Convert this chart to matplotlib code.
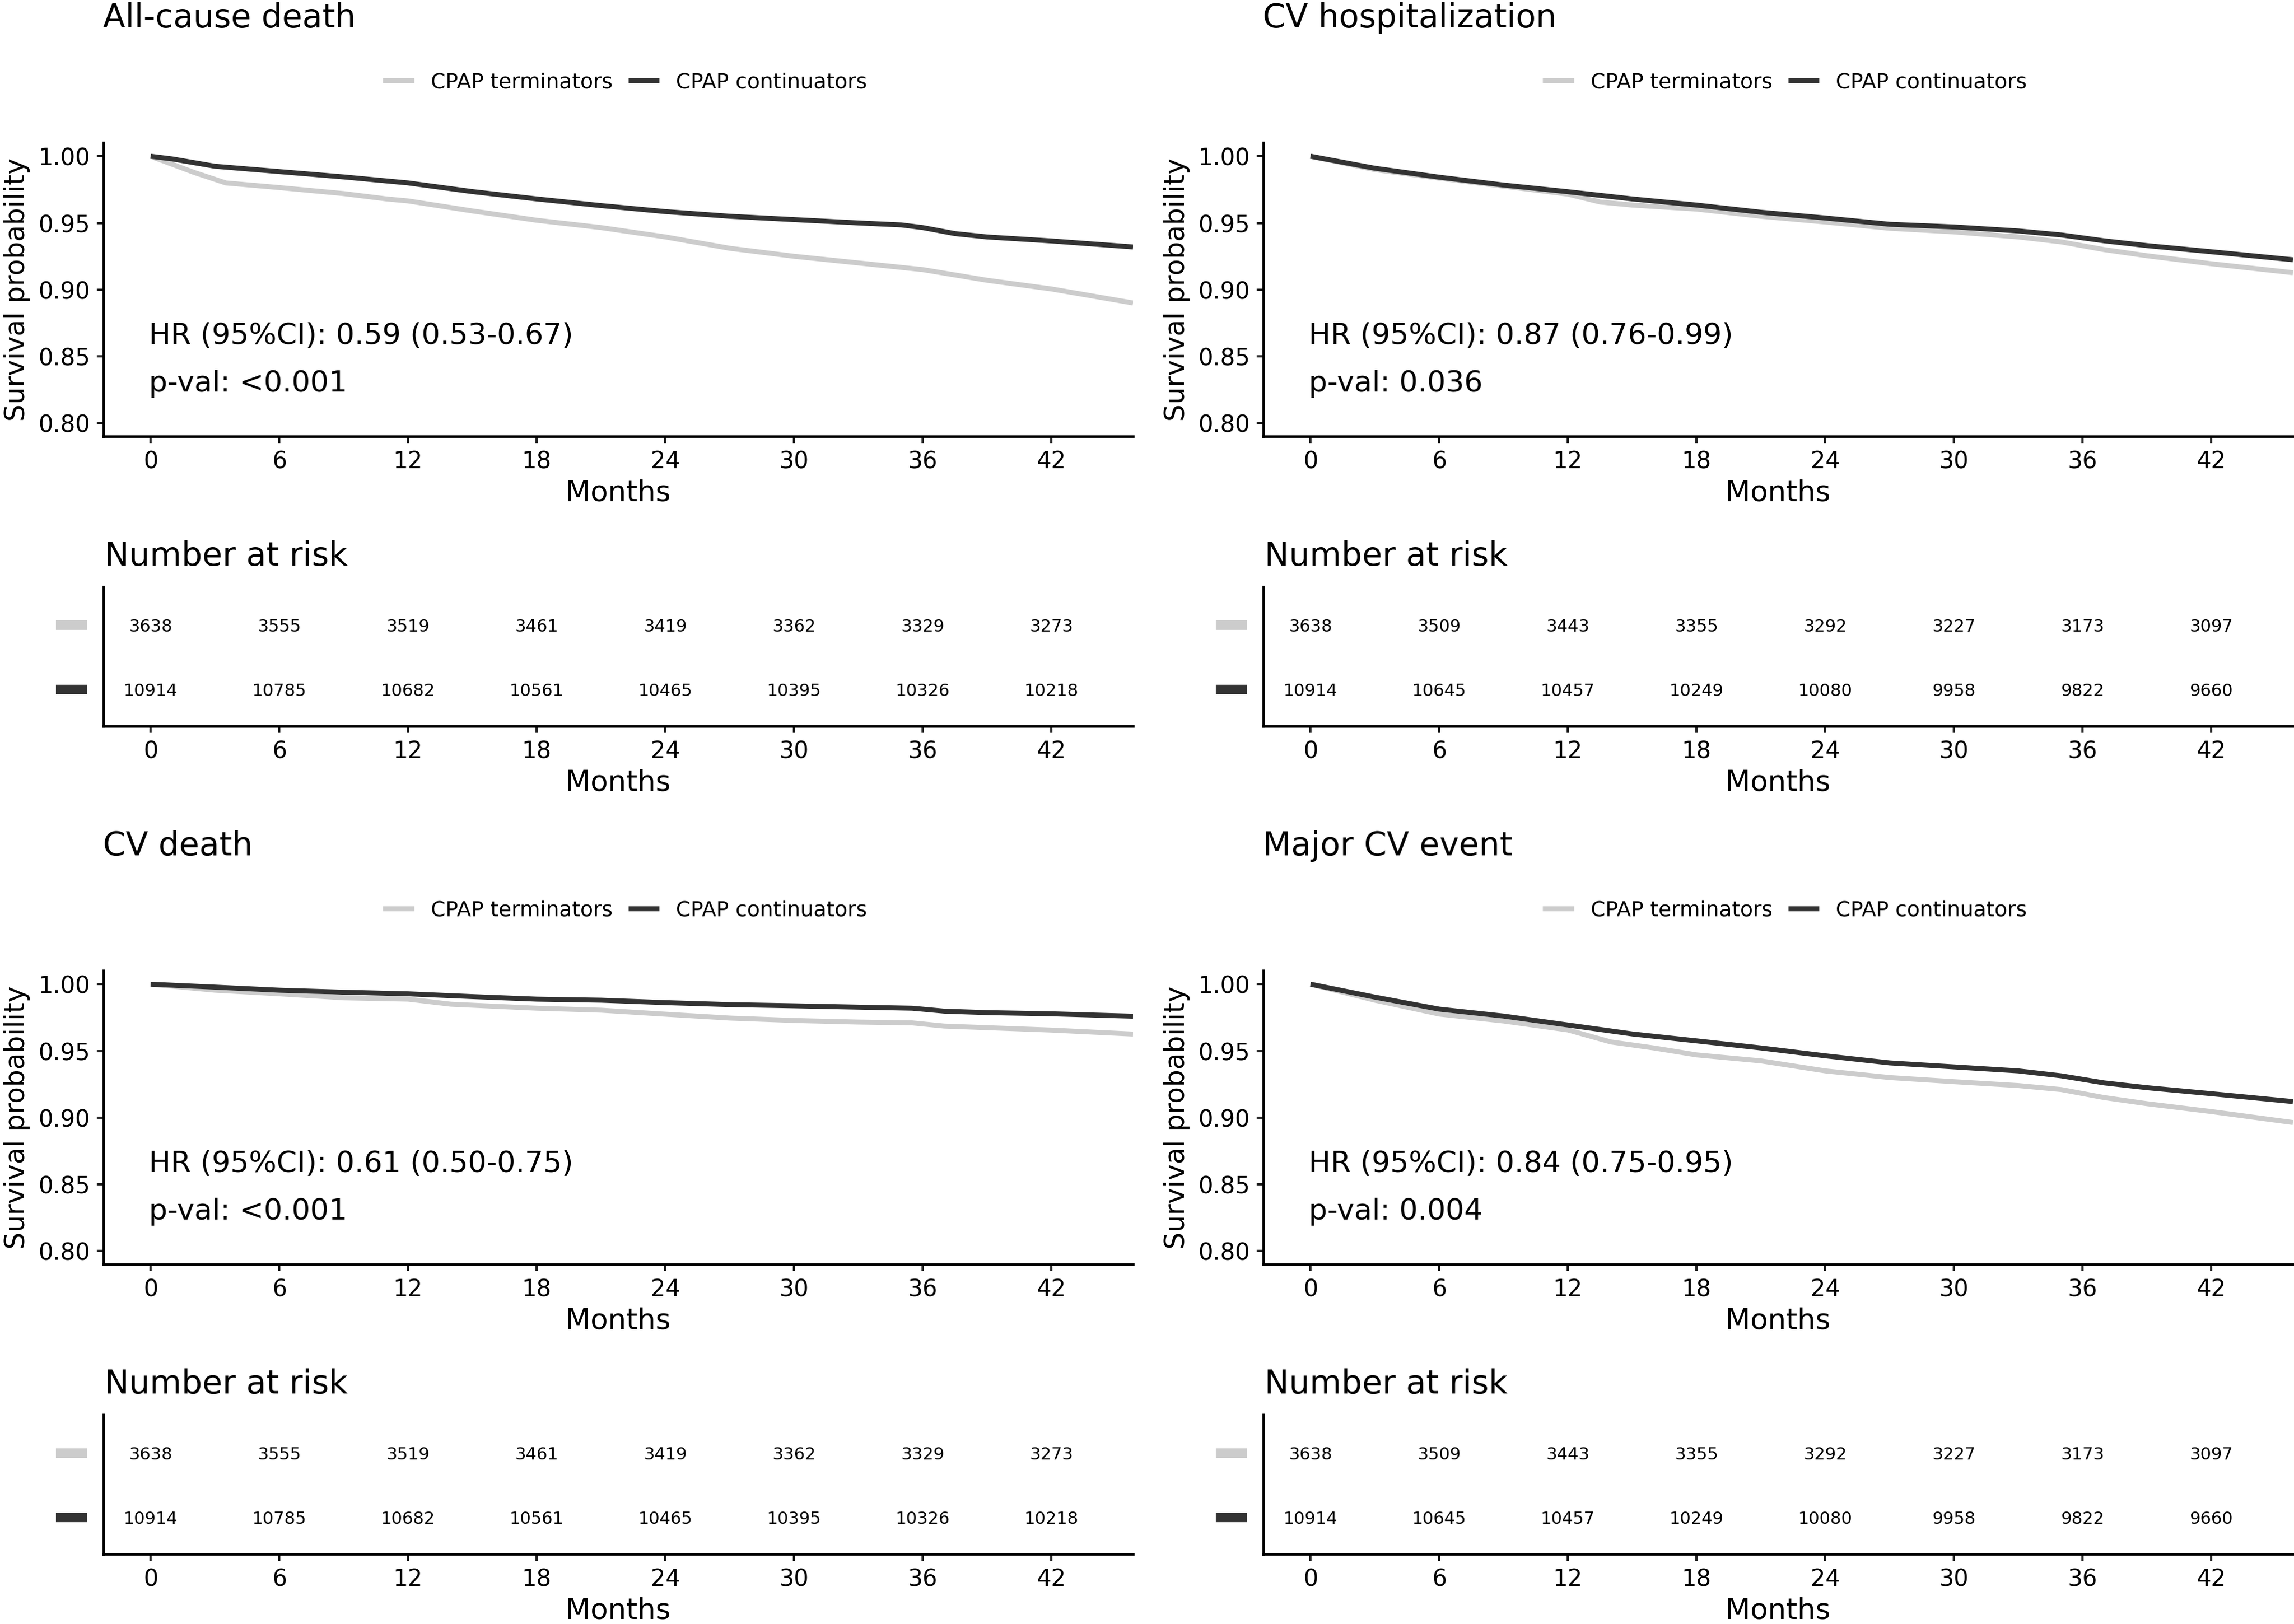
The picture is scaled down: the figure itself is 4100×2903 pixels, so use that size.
import matplotlib
matplotlib.use("Agg")
import matplotlib.pyplot as plt
import matplotlib.transforms as mtransforms
from matplotlib.patches import Rectangle
from matplotlib.lines import Line2D

plt.rcParams['font.family'] = ['DejaVu Sans']

# ---------------- data ----------------
month_ticks = [0, 6, 12, 18, 24, 30, 36, 42]
surv_ticks = [0.80, 0.85, 0.90, 0.95, 1.00]
group_labels = ["CPAP terminators", "CPAP continuators"]
group_colors = ["#CCCCCC", "#333333"]

titles = ["All-cause death", "CV hospitalization", "CV death", "Major CV event"]
hr_texts = ["HR (95%CI): 0.59 (0.53-0.67)", "HR (95%CI): 0.87 (0.76-0.99)",
            "HR (95%CI): 0.61 (0.50-0.75)", "HR (95%CI): 0.84 (0.75-0.95)"]
p_texts = ["p-val: <0.001", "p-val: 0.036", "p-val: <0.001", "p-val: 0.004"]

# All-cause death
acd_term_months = [0, 1, 2, 3.5, 6, 9, 11, 12, 15, 18, 21, 24, 27, 30, 33, 36, 39, 42, 45.8]
acd_term_surv = [1.000, 0.994, 0.988, 0.980, 0.9765, 0.972, 0.968, 0.9665, 0.959, 0.952, 0.9465,
                 0.9395, 0.931, 0.925, 0.920, 0.915, 0.907, 0.9005, 0.890]
acd_cont_months = [0, 1, 3, 6, 9, 12, 15, 18, 21, 24, 27, 30, 33, 35, 36, 37.5, 39, 42, 45.8]
acd_cont_surv = [1.000, 0.998, 0.9925, 0.9885, 0.9845, 0.980, 0.9735, 0.968, 0.963, 0.9585, 0.955,
                 0.9525, 0.950, 0.9485, 0.9465, 0.942, 0.9395, 0.9365, 0.932]

# CV hospitalization
cvh_term_months = [0, 3, 6, 9, 12, 13.5, 15, 18, 21, 24, 27, 30, 33, 35, 37, 39, 42, 45.8]
cvh_term_surv = [1.000, 0.990, 0.9836, 0.9776, 0.9716, 0.9657, 0.9634, 0.9604, 0.955, 0.9507, 0.946,
                 0.9433, 0.9395, 0.9358, 0.930, 0.9254, 0.9194, 0.9127]
cvh_cont_months = [0, 3, 6, 9, 12, 15, 18, 21, 24, 27, 30, 33, 35, 37, 39, 42, 45.8]
cvh_cont_surv = [1.000, 0.991, 0.9843, 0.9784, 0.9734, 0.968, 0.9634, 0.958, 0.9537, 0.949, 0.947,
                 0.944, 0.941, 0.9366, 0.933, 0.9284, 0.9224]

# CV death
cvd_term_months = [0, 3, 6, 9, 12, 14, 18, 21, 24, 27, 30, 33, 35.5, 37, 42, 45.8]
cvd_term_surv = [1.000, 0.9955, 0.9928, 0.9898, 0.9888, 0.985, 0.982, 0.9805, 0.9775, 0.9746,
                 0.9728, 0.9716, 0.971, 0.9686, 0.9656, 0.9626]
cvd_cont_months = [0, 3, 6, 9, 12, 15, 18, 21, 24, 27, 30, 33, 35.5, 37, 39, 42, 45.8]
cvd_cont_surv = [1.000, 0.9978, 0.9955, 0.994, 0.9928, 0.9907, 0.9888, 0.988, 0.9862, 0.9847,
                 0.9838, 0.9828, 0.982, 0.9798, 0.9787, 0.9778, 0.976]

# Major CV event
mace_term_months = [0, 3, 6, 9, 12, 14, 16, 18, 21, 24, 27, 30, 33, 35, 37, 39, 42, 45.8]
mace_term_surv = [1.000, 0.988, 0.9776, 0.9724, 0.9657, 0.9567, 0.9522, 0.947, 0.9425, 0.935, 0.930,
                  0.9269, 0.924, 0.921, 0.915, 0.9104, 0.9045, 0.8963]
mace_cont_months = [0, 3, 6, 9, 12, 15, 18, 21, 24, 27, 30, 33, 35, 37, 39, 42, 45.8]
mace_cont_surv = [1.000, 0.9903, 0.9813, 0.9761, 0.9694, 0.9627, 0.9575, 0.9522, 0.9463, 0.941,
                  0.938, 0.935, 0.9313, 0.926, 0.9224, 0.9179, 0.912]

# Numbers at risk
acd_risk_term = [3638, 3555, 3519, 3461, 3419, 3362, 3329, 3273]
acd_risk_cont = [10914, 10785, 10682, 10561, 10465, 10395, 10326, 10218]
cvh_risk_term = [3638, 3509, 3443, 3355, 3292, 3227, 3173, 3097]
cvh_risk_cont = [10914, 10645, 10457, 10249, 10080, 9958, 9822, 9660]
cvd_risk_term = [3638, 3555, 3519, 3461, 3419, 3362, 3329, 3273]
cvd_risk_cont = [10914, 10785, 10682, 10561, 10465, 10395, 10326, 10218]
mace_risk_term = [3638, 3509, 3443, 3355, 3292, 3227, 3173, 3097]
mace_risk_cont = [10914, 10645, 10457, 10249, 10080, 9958, 9822, 9660]

panels = [
    dict(col=0, row=0, curves=[(acd_term_months, acd_term_surv), (acd_cont_months, acd_cont_surv)],
         risk=[acd_risk_term, acd_risk_cont]),
    dict(col=1, row=0, curves=[(cvh_term_months, cvh_term_surv), (cvh_cont_months, cvh_cont_surv)],
         risk=[cvh_risk_term, cvh_risk_cont]),
    dict(col=0, row=1, curves=[(cvd_term_months, cvd_term_surv), (cvd_cont_months, cvd_cont_surv)],
         risk=[cvd_risk_term, cvd_risk_cont]),
    dict(col=1, row=1, curves=[(mace_term_months, mace_term_surv), (mace_cont_months, mace_cont_surv)],
         risk=[mace_risk_term, mace_risk_cont]),
]

# ---------------- layout (pixels) ----------------
W, H = 4100, 2903
DPI = 100
fig = plt.figure(figsize=(W / DPI, H / DPI), dpi=DPI)
fig.patch.set_facecolor("white")

COL_OFF = 2073
ROW_OFF = 1480
AX_L, AX_R = 185, 2025
MAIN_T, MAIN_B = 255, 780
TAB_T, TAB_B = 1049, 1298
XLIM = (-2.2, 45.8)
YLIM = (0.79, 1.0102)
TAB_YLIM = (0.43, 2.6)

LW_CURVE = 6.4
LW_SPINE = 3.3
TICK_LEN = 8.6
TICK_W = 2.9


def style_axes(ax):
    for s in ("top", "right"):
        ax.spines[s].set_visible(False)
    for s in ("left", "bottom"):
        ax.spines[s].set_linewidth(LW_SPINE)
        ax.spines[s].set_color("black")
    ax.tick_params(axis="both", length=TICK_LEN, width=TICK_W, color="#222222",
                   labelsize=30, labelcolor="black")
    ax.tick_params(axis="x", pad=9.0)
    ax.tick_params(axis="y", pad=8.6)


for i, p in enumerate(panels):
    ox = p["col"] * COL_OFF
    oy = p["row"] * ROW_OFF
    L = AX_L + ox
    R = AX_R + ox

    # ---- survival plot ----
    ax = fig.add_axes([L / W, 1 - (MAIN_B + oy) / H, (R - L) / W, (MAIN_B - MAIN_T) / H])
    for (m, s), col, lab in zip(p["curves"], group_colors, group_labels):
        ax.plot(m, s, color=col, lw=LW_CURVE, solid_capstyle="butt",
                solid_joinstyle="round", label=lab, clip_on=True)
    ax.set_xlim(*XLIM)
    ax.set_ylim(*YLIM)
    ax.set_xticks(month_ticks)
    ax.set_xticklabels([str(t) for t in month_ticks])
    ax.set_yticks(surv_ticks)
    ax.set_yticklabels(["%.2f" % v for v in surv_ticks])
    style_axes(ax)

    ax.text(0.5, -101 / (MAIN_B - MAIN_T), "Months", transform=ax.transAxes,
            ha="center", va="center", fontsize=37)
    ax.text(-(AX_L - 30) / (AX_R - AX_L), 0.5, "Survival probability", transform=ax.transAxes,
            rotation=90, ha="center", va="center", fontsize=35)

    ax.text(-0.08, 0.8593, hr_texts[i], ha="left", va="baseline", fontsize=37.5)
    ax.text(-0.08, 0.8237, p_texts[i], ha="left", va="baseline", fontsize=37.5)

    handles = [Line2D([0], [0], color=c, lw=LW_CURVE, solid_capstyle="butt") for c in group_colors]
    ax.legend(handles, group_labels, loc="center", bbox_to_anchor=(0.5065, 1 + 108 / 525),
              ncol=2, frameon=False, fontsize=27, handlelength=1.47, handletextpad=0.8,
              columnspacing=0.75, borderaxespad=0, borderpad=0)

    fig.text((184 + ox) / W, 1 - (49 + oy) / H, titles[i], ha="left", va="baseline", fontsize=42)

    # ---- risk table ----
    tax = fig.add_axes([L / W, 1 - (TAB_B + oy) / H, (R - L) / W, (TAB_B - TAB_T) / H])
    tax.set_xlim(*XLIM)
    tax.set_ylim(*TAB_YLIM)
    tax.set_xticks(month_ticks)
    tax.set_xticklabels([str(t) for t in month_ticks])
    tax.set_yticks([])
    style_axes(tax)
    tax.text(0.5, -101 / (TAB_B - TAB_T), "Months", transform=tax.transAxes,
             ha="center", va="center", fontsize=37)

    row_pos = [2, 1]
    for g, (vals, ypos) in enumerate(zip(p["risk"], row_pos)):
        for t, v in zip(month_ticks, vals):
            tax.text(t, ypos, str(v), ha="center", va="center_baseline", fontsize=22)
        trans = mtransforms.blended_transform_factory(fig.transFigure, tax.transData)
        rect = Rectangle(((100 + ox) / W, ypos - 0.074), 56 / W, 0.148, transform=trans,
                         facecolor=group_colors[g], edgecolor="none", clip_on=False)
        tax.add_patch(rect)

    fig.text((187 + ox) / W, 1 - (1011 + oy) / H, "Number at risk", ha="left", va="baseline",
             fontsize=42)

fig.savefig("out.png", dpi=DPI, facecolor="white")
